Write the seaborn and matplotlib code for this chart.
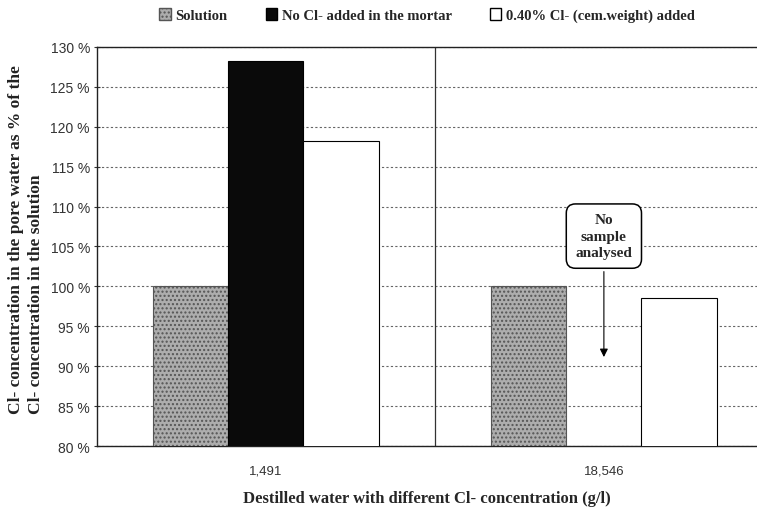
import numpy as np
import pandas as pd
import matplotlib
matplotlib.use("Agg")
import matplotlib.pyplot as plt
from matplotlib.patches import Patch
import seaborn as sns

concentrations = ["1,491", "18,546"]
series = ["Solution", "No Cl- added in the mortar", "0.40% Cl- (cem.weight) added"]
solution = [100.0, 100.1]
no_cl_added = [128.3, np.nan]
cl_040_added = [118.2, 98.6]

rows = []
for name, vals in zip(series, [solution, no_cl_added, cl_040_added]):
    for c, v in zip(concentrations, vals):
        rows.append({"conc": c, "series": name, "value": v})
df = pd.DataFrame(rows)

sns.set_style("white")
serif = ["Liberation Serif", "DejaVu Serif"]
sans = ["Liberation Sans", "DejaVu Sans"]

fig = plt.figure(figsize=(7.57, 5.10), dpi=100)
ax = fig.add_axes([0.128, 0.1235, 0.872, 0.7825])

fills = ["#adadad", "#0a0a0a", "#ffffff"]
sns.barplot(data=df, x="conc", y="value", hue="series", hue_order=series,
            order=concentrations, palette=fills, width=0.667, dodge=True,
            edgecolor="black", linewidth=0.8, legend=False, ax=ax, zorder=3)

# speckled look for the solution bars
for bar in ax.containers[0]:
    bar.set_hatch("....")
    bar.set_edgecolor("#555555")

ax.set_ylim(80, 130)
ax.set_xlim(-0.5, 1.453)
yt = list(range(80, 131, 5))
ax.set_yticks(yt)
ax.set_yticklabels([f"{v} %" for v in yt], fontsize=10, family=sans, color="#333333")
ax.set_xticks([0, 1])
ax.set_xticklabels(concentrations, fontsize=9.5, family=sans, color="#333333")
ax.set_xticks([0.5], minor=True)
ax.tick_params(axis="x", which="major", length=0, pad=13)
ax.tick_params(axis="x", which="minor", length=5, direction="out", color="#333333")
ax.tick_params(axis="y", length=4, direction="inout", color="#333333", left=True, pad=3)

ax.yaxis.grid(True, linestyle=(0, (2, 2)), color="#666666", linewidth=0.8)
ax.set_axisbelow(True)
ax.axvline(0.5, color="#333333", linewidth=0.9, zorder=2)

for s in ["left", "bottom", "top"]:
    ax.spines[s].set_visible(True)
    ax.spines[s].set_color("#222222")
    ax.spines[s].set_linewidth(1.0)
ax.spines["right"].set_visible(False)

ax.set_xlabel("Destilled water with different Cl- concentration (g/l)",
              fontsize=12, family=serif, fontweight="bold", labelpad=10)
ax.set_ylabel("")
fig.text(0.01, 0.53, "Cl- concentration in the pore water as % of the\nCl- concentration in the solution",
         rotation=90, ha="left", va="center", fontsize=12.5, family=serif,
         fontweight="bold", color="#222222", linespacing=1.35)

ax.annotate("No\nsample\nanalysed", xy=(1.0, 90.8), xytext=(1.0, 106.3),
            ha="center", va="center", fontsize=11, family=serif, fontweight="bold",
            linespacing=1.35, zorder=5,
            bbox=dict(boxstyle="round,pad=0.6", fc="white", ec="black", lw=1.1),
            arrowprops=dict(arrowstyle="-|>", color="black", lw=0.8, mutation_scale=12))

handles = [Patch(facecolor=fills[0], edgecolor="#555555", hatch="...."),
           Patch(facecolor=fills[1], edgecolor="black"),
           Patch(facecolor=fills[2], edgecolor="black")]
fig.legend(handles, series, loc="center", bbox_to_anchor=(0.564, 0.968), ncol=3,
           frameon=False, handlelength=0.8, handleheight=0.8, handletextpad=0.3,
           columnspacing=2.6, prop={"family": serif, "weight": "bold", "size": 10.5})

fig.savefig("out.png", dpi=100)
